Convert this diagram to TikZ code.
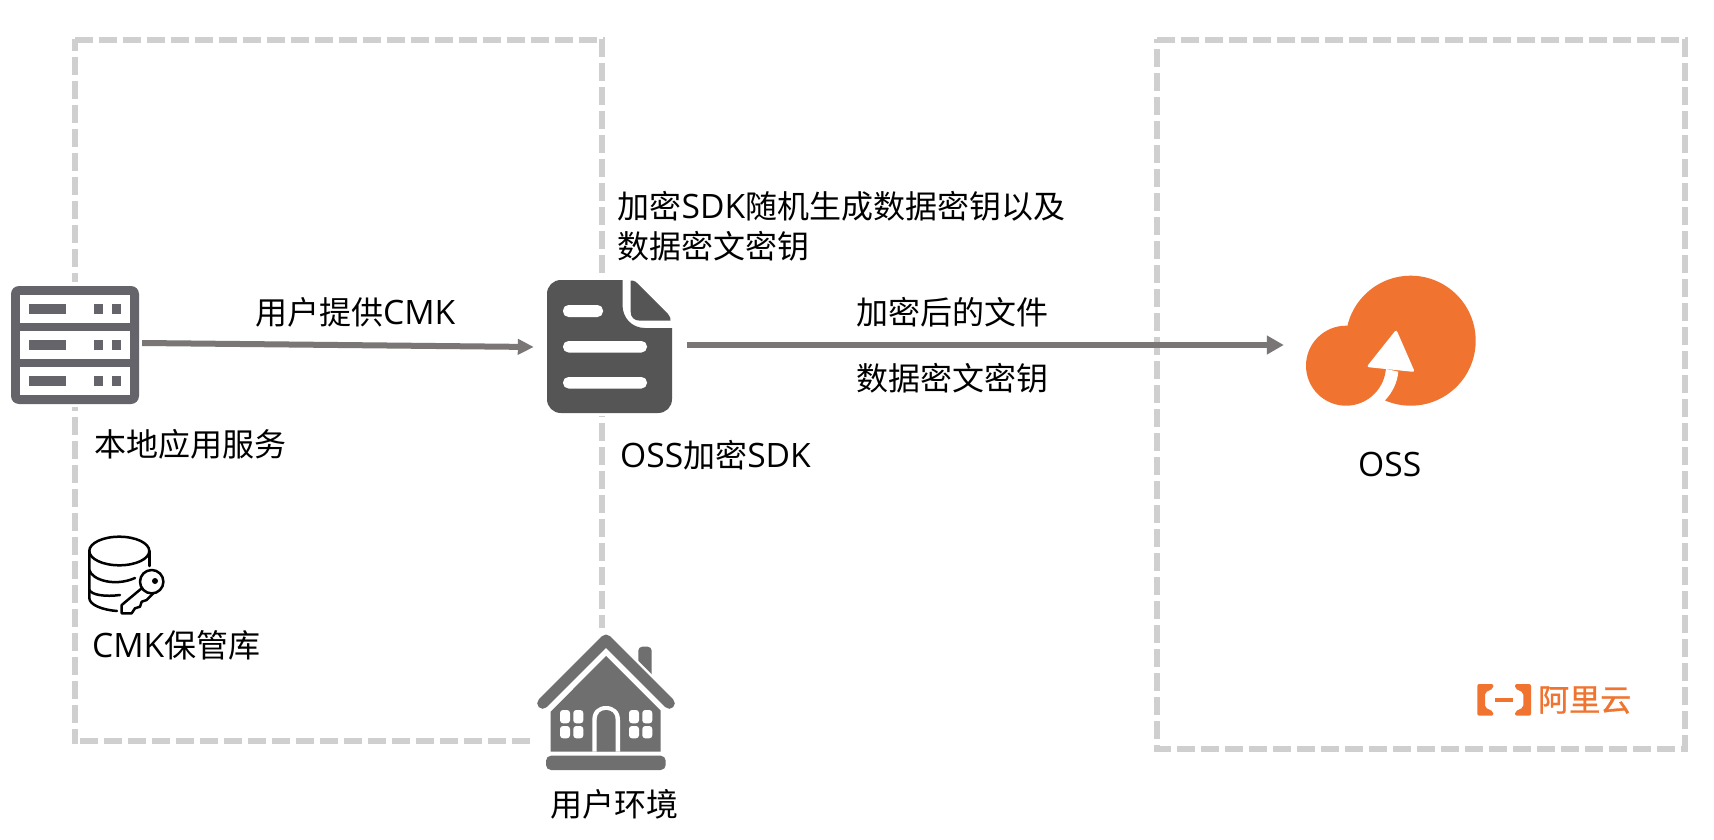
\documentclass[tikz,border=0pt]{standalone}
\usepackage{fontspec}
\setmainfont{Open Sans}[Scale=1.05]
\newfontfamily\cjk{Noto Sans CJK SC}
\newfontfamily\cjklogo[FakeBold=1]{Noto Sans CJK SC}
\usetikzlibrary{arrows.meta}
\definecolor{dashgray}{HTML}{D0CFCF}
\definecolor{linegray}{HTML}{7A7675}
\definecolor{servergray}{HTML}{64646A}
\definecolor{docgray}{HTML}{555555}
\definecolor{housegray}{HTML}{6F6F6F}
\definecolor{aliorange}{HTML}{F07430}
\tikzset{
  boxline/.style={draw=dashgray,line width=6pt},
  lbl/.style={inner sep=0pt,anchor=west,align=left,text=black,font=\fontsize{32}{40}\selectfont},
  conn/.style={draw=linegray,line width=6pt},
  dbline/.style={draw=black,line width=2.5pt,line cap=round,line join=round},
  mask/.style={fill=white,draw=none},
}
\begin{document}
\begin{tikzpicture}[x=1pt,y=-1pt]
\useasboundingbox (0,0) rectangle (1714,840);
\fill[white] (0,0) rectangle (1714,840);

% dashed frames
\draw[boxline,dash pattern=on 18pt off 6pt] (75,40) -- (605,40);
\draw[boxline,dash pattern=on 18pt off 6pt,dash phase=6pt] (75,39) -- (75,744);
\draw[boxline,dash pattern=on 18pt off 6pt] (602,39) -- (602,628);
\draw[boxline,dash pattern=on 18pt off 6pt,dash phase=19pt] (75,741) -- (530,741);
\draw[boxline,dash pattern=on 18pt off 6pt] (1157,40) -- (1688,40);
\draw[boxline,dash pattern=on 18pt off 6pt,dash phase=14pt] (1157,39) -- (1157,752);
\draw[boxline,dash pattern=on 18pt off 6pt] (1685,39) -- (1685,752);
\draw[boxline,dash pattern=on 18pt off 6pt,dash phase=4pt] (1157,749) -- (1688,749);

% masks behind icons
\fill[mask] (5,282) rectangle (140,407);
\fill[mask] (540,276) rectangle (680,416);

% icon anchors
\node[inner sep=0pt,minimum width=128pt,minimum height=118pt] (server) at (75,345) {};
\node[inner sep=0pt,minimum width=125pt,minimum height=133pt] (doc) at (609.5,346.5) {};
\node[inner sep=0pt,minimum width=160pt,minimum height=130pt] (cloud) at (1365,345) {};

% connectors
\draw[conn,-{Triangle[length=16pt,width=15pt]}] ([xshift=3pt,yshift=2pt]server.east) -- ([xshift=-13pt,yshift=-.5pt]doc.west);
\draw[conn,-{Triangle[length=17pt,width=18pt]}] ([xshift=15pt,yshift=1.5pt]doc.east) -- ([xshift=-1pt]cloud.west);

% server icon
\fill[servergray,rounded corners=8pt] (11,286) rectangle (139,404);
\foreach \yy in {295,331,367}{
  \fill[white] (20,\yy) rectangle (130,\yy+27.5);
  \fill[servergray] (29,\yy+9) rectangle (66,\yy+18.5);
  \fill[servergray] (94,\yy+9) rectangle (102.5,\yy+18.5);
  \fill[servergray] (112,\yy+9) rectangle (121,\yy+18.5);
}

% document icon
\fill[docgray] (622.5,280) -- (561,280) .. controls (553,280) and (547,286) .. (547,294)
  -- (547,399) .. controls (547,407) and (553,413) .. (561,413)
  -- (658,413) .. controls (666,413) and (672,407) .. (672,399)
  -- (672,328) -- (645,328) .. controls (632,328) and (622.5,318) .. (622.5,305) -- cycle;
\fill[docgray] (630.7,280.7) -- (633,280.7) .. controls (635,281) and (636,282) .. (637,283)
  -- (668,314) .. controls (670,316) and (671,319) .. (670.5,320.7)
  -- (640,320.7) .. controls (634,320.7) and (630.7,317) .. (630.7,312) -- cycle;
\fill[white,rounded corners=5.5pt] (563,305) rectangle (603,317);
\fill[white,rounded corners=5.5pt] (563,341) rectangle (647,352.5);
\fill[white,rounded corners=5.5pt] (563,377) rectangle (647,388.5);

% cloud icon
\fill[aliorange] (1410.7,340.7) circle (65pt);
\fill[white] (1383.3,368.3) -- (1398.3,371.7) .. controls (1397.3,383.3) and (1391.7,393.3) .. (1385,400.3)
  -- (1380,408.3) -- (1356.7,408.3) -- cycle;
\fill[aliorange] (1346,365.7) circle (40pt);
\fill[white,rounded corners=2.5pt] (1396.3,329.5) -- (1366.5,367) -- (1414.8,372) -- cycle;

% database with key
\draw[dbline] (119.3,551) ellipse [x radius=30pt,y radius=14.3pt];
\draw[dbline] (89.3,551) -- (89.3,598) .. controls (89.3,605) and (103,610) .. (117,611);
\draw[dbline] (89.3,570) .. controls (92,580) and (115,587) .. (135,578);
\draw[dbline] (89.3,590) .. controls (92,595) and (105,597) .. (120,595);
\draw[dbline] (149.3,551) -- (149.3,566);
\draw[dbline,fill=white] (141.7,588.3) -- (121.7,605) -- (121.7,613.3) -- (131.7,613.3) -- (135,608.3)
  -- (140,606.7) -- (141.7,601.7) -- (146.7,600) -- (154,592.7) -- cycle;
\draw[dbline,fill=white] (151.7,581.7) circle (11.7pt);
\fill[black] (155,581) circle (3pt);

% house icon
\begin{scope}[housegray]
\fill[rounded corners=4pt] (638.3,668) -- (638.3,646.7) -- (651.7,646.7) -- (651.7,680) -- cycle;
\draw[white,line width=16pt,line join=round] (542.7,703.3) -- (606,640) -- (669.3,703.3);
\fill (606,656) -- (550.7,711.7) -- (550.7,751.7) -- (660.7,751.7) -- (660.7,710.7) -- cycle;
\draw[housegray,line width=11pt,line cap=round,line join=round] (542.7,703.3) -- (606,640) -- (669.3,703.3);
\fill[rounded corners=5pt] (546,755.7) rectangle (665.7,770);
\fill[white] (592.3,751.7) -- (592.3,720) .. controls (592.3,711) and (598,706) .. (606,706)
  .. controls (614,706) and (620,711) .. (620,720) -- (620,751.7) -- cycle;
\fill (596.7,751.7) -- (596.7,720) .. controls (596.7,713) and (601,710) .. (606,710)
  .. controls (611,710) and (615.7,713) .. (615.7,720) -- (615.7,751.7) -- cycle;
\foreach \xx in {560,629}{
  \fill[white,rounded corners=3pt] (\xx,710) rectangle (\xx+10,723.3);
  \fill[white,rounded corners=3pt] (\xx+13.3,710) rectangle (\xx+23.3,723.3);
  \fill[white,rounded corners=3pt] (\xx,726) rectangle (\xx+10,738.3);
  \fill[white,rounded corners=3pt] (\xx+13.3,726) rectangle (\xx+23.3,738.3);
}
\end{scope}

% logo
\fill[aliorange,rounded corners=2pt] (1493.3,684) -- (1477.3,684) -- (1477.3,715.7) -- (1493.3,715.7)
  -- (1493.3,711.5) -- (1485,707.5) -- (1485,692.5) -- (1493.3,688.5) -- cycle;
\fill[aliorange,rounded corners=2pt] (1515,684) -- (1531,684) -- (1531,715.7) -- (1515,715.7)
  -- (1515,711.5) -- (1523.3,707.5) -- (1523.3,692.5) -- (1515,688.5) -- cycle;
\fill[aliorange] (1495,698.3) rectangle (1513.3,702.3);
\node[inner sep=0pt,anchor=west,text=aliorange,font=\fontsize{31}{36}\selectfont] (logotext) at (1538,700) {\cjklogo 阿里云};

% labels
\node[lbl] (l1) at (255,312) {{\cjk 用户提供}CMK};
\node[lbl] (l2) at (94,444) {\cjk 本地应用服务};
\node[lbl] (l3) at (92,645) {CMK{\cjk 保管库}};
\node[lbl] (l4) at (617.5,226) {{\cjk 加密}SDK{\cjk 随机生成数据密钥以及}\\{\cjk 数据密文密钥}};
\node[lbl] (l5) at (620,455) {OSS{\cjk 加密}SDK};
\node[lbl] (l6) at (856,312) {\cjk 加密后的文件};
\node[lbl] (l7) at (856,378) {\cjk 数据密文密钥};
\node[lbl] (l8) at (1358,464) {OSS};
\node[lbl] (l9) at (550,804) {\cjk 用户环境};
\end{tikzpicture}
\end{document}
